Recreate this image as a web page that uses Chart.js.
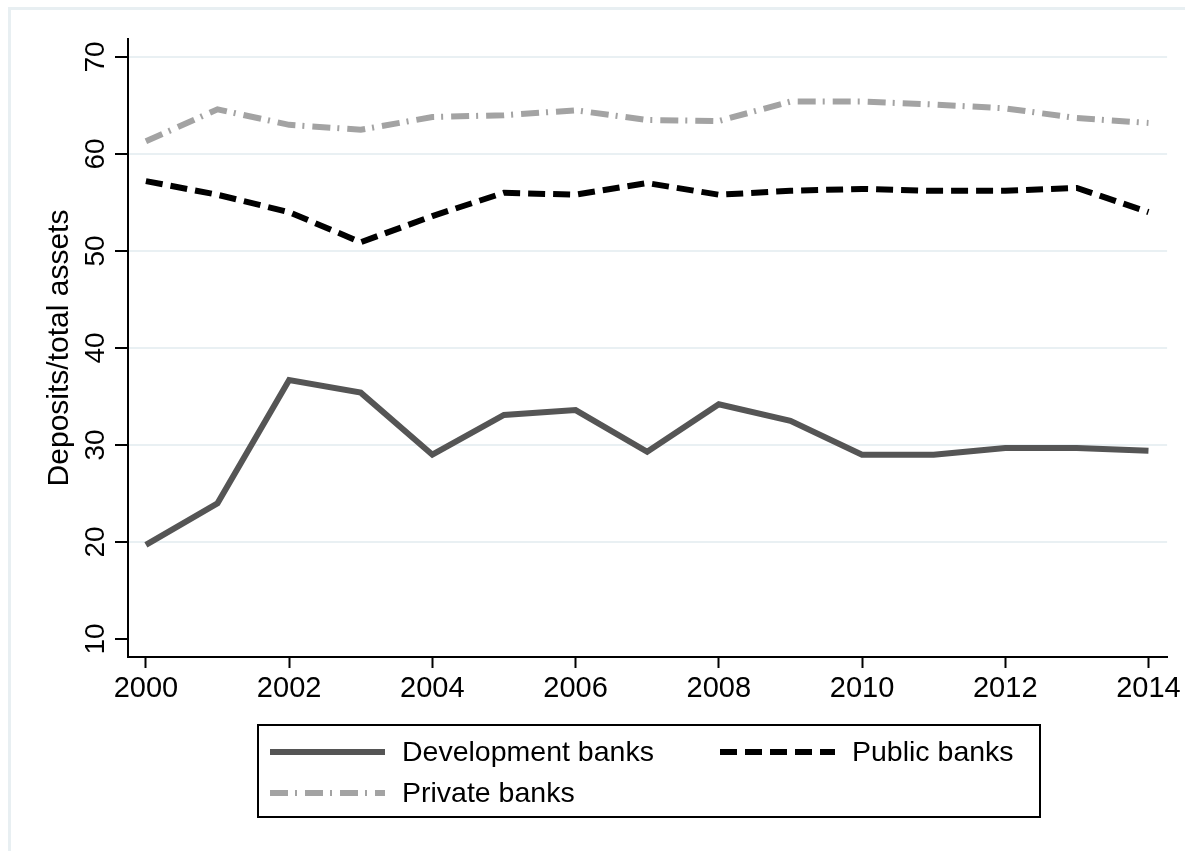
<!DOCTYPE html>
<html>
<head>
<meta charset="utf-8">
<script src="https://cdn.jsdelivr.net/npm/chart.js@4/dist/chart.umd.min.js"></script>
<style>
    html, body { margin: 0; padding: 0; background: #fff; }
    #wrap { position: relative; width: 1185px; height: 851px; }
</style>
</head>
<body>
<div id="wrap"><canvas id="depositsChart"></canvas></div>
<script>
// values
const years = [2000, 2001, 2002, 2003, 2004, 2005, 2006, 2007, 2008, 2009, 2010, 2011, 2012, 2013, 2014];
const developmentBanks = [19.7, 24.0, 36.7, 35.4, 29.0, 33.1, 33.6, 29.3, 34.2, 32.5, 29.0, 29.0, 29.7, 29.7, 29.4];
const publicBanks = [57.2, 55.8, 54.0, 50.9, 53.6, 56.0, 55.8, 57.0, 55.8, 56.2, 56.4, 56.2, 56.2, 56.5, 54.0];
const privateBanks = [61.3, 64.6, 63.0, 62.5, 63.8, 64.0, 64.5, 63.5, 63.4, 65.4, 65.4, 65.1, 64.7, 63.7, 63.2];
const xTicks = [2000, 2002, 2004, 2006, 2008, 2010, 2012, 2014];
const yTicks = [10, 20, 30, 40, 50, 60, 70];
const yTitle = "Deposits/total assets";

const FONT = "'Liberation Sans', Arial, sans-serif";

function toPoints(values) {
    return values.map((v, i) => ({ x: years[i], y: v }));
}

// stata-like frame + boxed legend
const extrasPlugin = {
    id: "extras",
    beforeDraw(chart) {
        const c = chart.ctx;
        c.save();
        c.strokeStyle = "#e8eff2";
        c.lineWidth = 3;
        c.beginPath();
        c.moveTo(9.5, 851);
        c.lineTo(9.5, 8.5);
        c.lineTo(1185, 8.5);
        c.stroke();
        c.restore();
    },
    afterDraw(chart) {
        const c = chart.ctx;
        const ds = chart.data.datasets;
        c.save();
        c.strokeStyle = "#000";
        c.lineWidth = 2;
        c.strokeRect(258, 725, 782, 92);

        const slots = [
            { x: 270, y: 752 },
            { x: 720, y: 752 },
            { x: 270, y: 793 }
        ];
        c.font = "28.5px " + FONT;
        c.textBaseline = "middle";
        c.fillStyle = "#000";
        ds.forEach((d, i) => {
            const s = slots[i];
            c.strokeStyle = d.borderColor;
            c.lineWidth = d.borderWidth;
            c.setLineDash(d.borderDash || []);
            c.lineCap = "butt";
            c.beginPath();
            c.moveTo(s.x, s.y);
            c.lineTo(s.x + 115, s.y);
            c.stroke();
            c.setLineDash([]);
            c.fillText(d.label, s.x + 132, s.y + 1);
        });
        c.restore();
    }
};

const ctx = document.getElementById("depositsChart").getContext("2d");
const chart = new Chart(ctx, {
    type: "line",
    data: {
        datasets: [
            {
                label: "Development banks",
                data: toPoints(developmentBanks),
                borderColor: "#555555",
                borderWidth: 6,
                pointRadius: 0
            },
            {
                label: "Public banks",
                data: toPoints(publicBanks),
                borderColor: "#000000",
                borderWidth: 6,
                borderDash: [17, 8],
                pointRadius: 0
            },
            {
                label: "Private banks",
                data: toPoints(privateBanks),
                borderColor: "#a3a3a3",
                borderWidth: 6,
                borderDash: [18, 7, 2, 8],
                pointRadius: 0
            }
        ]
    },
    options: {
        responsive: true,
        maintainAspectRatio: false,
        animation: false,
        layout: { padding: { left: 0, right: 15, top: 39, bottom: 134 } },
        plugins: {
            legend: { display: false },
            tooltip: { enabled: false }
        },
        scales: {
            x: {
                type: "linear",
                min: 1999.75,
                max: 2014.26,
                afterBuildTicks: (scale) => { scale.ticks = xTicks.map(v => ({ value: v })); },
                afterFit: (scale) => { scale.height = 60; },
                border: { display: true, color: "#000", width: 2 },
                grid: { drawOnChartArea: false, tickColor: "#000", tickLength: 11, tickWidth: 2 },
                ticks: {
                    color: "#000",
                    font: { family: FONT, size: 29 },
                    padding: 4,
                    maxRotation: 0,
                    callback: (v) => String(v)
                }
            },
            y: {
                min: 8.15,
                max: 71.85,
                afterBuildTicks: (scale) => { scale.ticks = yTicks.map(v => ({ value: v })); },
                afterFit: (scale) => { scale.width = 128; },
                border: { display: true, color: "#000", width: 2 },
                grid: {
                    color: (c) => (c.tick && c.tick.value === 10) ? "rgba(0,0,0,0)" : "#e9f0f3",
                    lineWidth: 2,
                    tickColor: "#000",
                    tickLength: 13,
                    tickWidth: 2
                },
                ticks: {
                    color: "#000",
                    font: { family: FONT, size: 28 },
                    minRotation: 90,
                    maxRotation: 90,
                    crossAlign: "center",
                    padding: 3,
                    callback: (v) => String(v)
                },
                title: {
                    display: true,
                    text: yTitle,
                    color: "#000",
                    font: { family: FONT, size: 30 },
                    padding: { top: 42, bottom: 0 }
                }
            }
        }
    },
    plugins: [extrasPlugin]
});
</script>
</body>
</html>
